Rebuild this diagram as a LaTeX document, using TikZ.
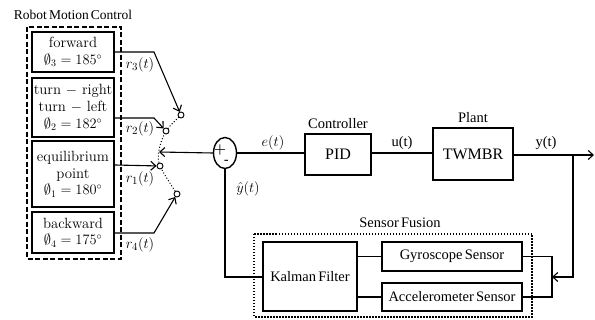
\documentclass[tikz,border=0pt]{standalone}
\usepackage{fontspec}
\usetikzlibrary{arrows.meta,shapes.geometric}
\newfontfamily\tnr[WordSpace={0.6,0.3,0.3}]{Liberation Serif}
\begin{document}
\begin{tikzpicture}[x=1pt,y=-1pt,
  line width=1.1pt,
  arr/.style={-{Straight Barb[length=5pt,width=9pt,line width=1.1pt]}},
  rmcbox/.style={draw,line width=2pt,minimum width=82pt,inner sep=0pt,align=center,font=\fontsize{14.8}{16.8}\selectfont},
  blk/.style={draw,line width=2pt,inner sep=0pt,align=center,font=\tnr\fontsize{16}{18}\selectfont},
  sblk/.style={draw,line width=2pt,inner sep=0pt,align=center,font=\tnr\fontsize{14.5}{16}\selectfont},
  ttl/.style={font=\tnr\fontsize{14.5}{16}\selectfont,inner sep=0pt},
  lab/.style={font=\fontsize{15}{16}\selectfont,inner sep=0pt},
  sw/.style={circle,draw,line width=0.9pt,fill=white,minimum size=6pt,inner sep=0pt},
  dashbox/.style={draw,line width=1.6pt,dash pattern=on 5pt off 2.5pt},
  dotbox/.style={draw,line width=1.6pt,dash pattern=on 1.5pt off 1.5pt}
]
\useasboundingbox (0,0) rectangle (595,320);

% Robot motion control
\node[ttl,font=\tnr\fontsize{13.5}{16}\selectfont] (rmct) at (73,15) {Robot Motion Control};
\draw[dashbox] (27,27) rectangle (121,259);
\node[rmcbox,minimum height=40pt] (fwd) at (73,52) {forward\\$\emptyset_3=185^{\circ}$};
\node[rmcbox,minimum height=59pt] (turn) at (73,107.5) {turn $-$ right\\turn $-$ left\\$\emptyset_2=182^{\circ}$};
\node[rmcbox,minimum height=66pt] (equi) at (73,174) {equilibrium\\point\\$\emptyset_1=180^{\circ}$};
\node[rmcbox,minimum height=41pt] (back) at (73,232.5) {backward\\$\emptyset_4=175^{\circ}$};

% switch
\coordinate (k3) at (154,52);
\coordinate (k2) at (154,118);
\coordinate (k1) at (154,165);
\coordinate (k4) at (154,233);
\coordinate (pv) at (159,152);
\draw[line width=1pt,dotted] plot[smooth] coordinates {(181,115) (166,131) (159,150) (160,166) (177,194)};
\node[sw] (c3) at (181,115) {};
\node[sw] (c2) at (166,131) {};
\node[sw] (c1) at (160,166) {};
\node[sw] (c4) at (177,194) {};
\draw[arr] (fwd.east |- k3) -- (k3) -- (c3);
\draw[arr] (turn.east |- k2) -- (k2) -- (c2);
\draw[arr] (equi.east |- k1) -- (c1);
\draw[arr] (back.east |- k4) -- (k4) -- (c4);
\node[lab] (r3) at (140,65) {$r_3(t)$};
\node[lab] (r2) at (140,129) {$r_2(t)$};
\node[lab] (r1) at (140,179) {$r_1(t)$};
\node[lab] (r4) at (140,245) {$r_4(t)$};

% summing junction
\node[ellipse,draw,line width=1.4pt,minimum width=23pt,minimum height=31pt,inner sep=0pt] (sum) at (225,153) {};
\node[inner sep=0pt,font=\bfseries\fontsize{14}{14}\selectfont] (plus) at (220,150) {+};
\node[inner sep=0pt,font=\bfseries\fontsize{12}{12}\selectfont] (minus) at (226.5,162) {-};
\draw[arr] (sum.west) -- (pv);

% forward path
\node[blk,minimum width=66pt,minimum height=41pt] (pid) at (338,154.5) {PID};
\node[ttl] (ctl) at (338,124) {Controller};
\node[blk,line width=2.4pt,minimum width=80pt,minimum height=52pt] (plant) at (473,154) {TWMBR};
\node[ttl] (plt) at (473,118) {Plant};
\draw (sum.east) -- (pid.west |- sum.east);
\draw (pid.east |- sum.east) -- (plant.west |- sum.east);
\coordinate (out) at (594,155);
\coordinate (br) at (573,155);
\draw[arr] (plant.east |- out) -- (out);
\node[lab] (e) at (273,143) {$e(t)$};
\node[ttl] (u) at (402,143) {u(t)};
\node[ttl] (yl) at (546,143) {y(t)};

% sensor fusion
\draw[dotbox] (254,234) rectangle (532,317);
\node[ttl] (sf) at (400,223) {Sensor Fusion};
\node[sblk,minimum width=94pt,minimum height=69pt] (kal) at (310,276.5) {Kalman Filter};
\node[sblk,minimum width=140pt,minimum height=29pt] (gyro) at (452,256.5) {Gyroscope Sensor};
\node[sblk,minimum width=140pt,minimum height=28pt] (acc) at (452,297) {Accelerometer Sensor};
\draw (kal.east |- gyro.west) -- (gyro.west);
\draw (kal.east |- acc.west) -- (acc.west);
\coordinate (m) at (552,277);
\draw (gyro.east) -- (m |- gyro.east) -- (m |- acc.east) -- (acc.east);
\draw[arr] (br) -- (br |- m) -- (m);
\coordinate (fb) at (225,277);
\draw (kal.west |- fb) -- (fb) -- (sum.south);
\node[lab] (yh) at (248,189) {$\hat{y}(t)$};
\end{tikzpicture}
\end{document}
